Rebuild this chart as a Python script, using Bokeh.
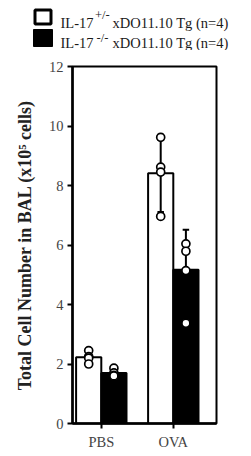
from bokeh.plotting import figure
from bokeh.models import Range1d, FixedTicker
from bokeh.layouts import column
from bokeh.embed import file_html
from bokeh.resources import INLINE
from bokeh.core.properties import value

# ---- data ----
categories = ["PBS", "OVA"]
cat_pos = [1, 2]
group_base = "IL-17"
group_sup = ["+/-", "-/-"]
group_rest = "xDO11.10 Tg (n=4)"
group_fill = ["white", "black"]
het_mean = [2.23, 8.41]
het_sd = [0.2, 1.3]
ko_mean = [1.70, 5.17]
ko_sd = [0.12, 1.34]
het_pbs_pts = [2.45, 2.25, 2.2, 2.0]
het_ova_pts = [9.62, 8.62, 8.45, 6.96]
ko_pbs_pts = [1.86, 1.7, 1.62, 1.6]
ko_ova_pts = [6.04, 5.79, 5.14, 3.37]
y_ticks = [0, 2, 4, 6, 8, 10, 12]
y_label = "Total Cell Number in BAL (x10\u2075 cells)"

FONT = "Liberation Serif"
BW = 0.35
CAP = 0.045

W = 251
LH = 50          # legend strip height
H = 456 - LH     # main figure height
FL, FR, FT, FB = 72, 216, 66 - LH, 423 - LH

het_x = [c - BW / 2 for c in cat_pos]
ko_x = [c + BW / 2 for c in cat_pos]

# ---- legend strip (page-pixel coordinates) ----
lf = figure(width=W, height=LH, x_range=Range1d(0, W), y_range=Range1d(LH, 0),
            output_backend="svg", toolbar_location=None, min_border=0,
            x_axis_type=None, y_axis_type=None)
lf.grid.visible = False
lf.outline_line_color = None
lf.background_fill_color = None
lf.border_fill_color = None
lf.quad(left=[34.5], right=[50.5], top=[9.5], bottom=[23.5],
        fill_color=group_fill[0], line_color="black", line_width=3)
lf.quad(left=[33], right=[52], top=[29], bottom=[46],
        fill_color=group_fill[1], line_color="black", line_width=1)
lf.text(x=[60, 60], y=[22, 42], text=[group_base, group_base],
        text_font=value(FONT), text_font_size="14.5px", text_color="#1a1a1a",
        text_baseline="alphabetic", text_align="left")
lf.text(x=[94.5, 96], y=[14.5, 37], text=group_sup,
        text_font=value(FONT), text_font_size="12.5px", text_color="#1a1a1a",
        text_baseline="alphabetic", text_align="left")
lf.text(x=[112, 112], y=[22, 42], text=[group_rest, group_rest],
        text_font=value(FONT), text_font_size="14.5px", text_color="#1a1a1a",
        text_baseline="alphabetic", text_align="left")

# ---- main figure ----
p = figure(width=W, height=H, x_range=Range1d(0.6, 2.6), y_range=Range1d(0, 12),
           output_backend="svg", toolbar_location=None,
           min_border_left=FL, min_border_right=W - FR,
           min_border_top=FT, min_border_bottom=H - FB)
p.grid.visible = False
p.outline_line_color = "black"
p.outline_line_width = 2

for fig in (lf, p):
    if "frame_align" in fig.properties():
        fig.frame_align = False

p.vbar(x=het_x, top=het_mean, width=BW, fill_color="white", line_color="black", line_width=2)
p.vbar(x=ko_x, top=ko_mean, width=BW, fill_color="black", line_color="black", line_width=2)

# error bars (mean +/- SD)
for xs, m, s in ((het_x, het_mean, het_sd), (ko_x, ko_mean, ko_sd)):
    lo = [a - b for a, b in zip(m, s)]
    hi = [a + b for a, b in zip(m, s)]
    p.segment(x0=xs, y0=lo, x1=xs, y1=hi, line_color="black", line_width=2)
    p.segment(x0=[x - CAP for x in xs], y0=hi, x1=[x + CAP for x in xs], y1=hi,
              line_color="black", line_width=2)
    p.segment(x0=[x - CAP for x in xs], y0=lo, x1=[x + CAP for x in xs], y1=lo,
              line_color="black", line_width=2)

# individual animals
pts_sets = [(het_x[0], het_pbs_pts), (het_x[1], het_ova_pts),
            (ko_x[0], ko_pbs_pts), (ko_x[1], ko_ova_pts)]
px, py = [], []
for xc, vals in pts_sets:
    px += [xc] * len(vals)
    py += vals
p.scatter(x=px, y=py, marker="circle", size=8, fill_color="white",
          line_color="black", line_width=1.7)

# axes
for ax in (p.xaxis[0], p.yaxis[0]):
    ax.axis_line_width = 2.5
    ax.axis_line_color = "black"
    ax.major_tick_line_width = 2
    ax.major_tick_line_color = "black"
    ax.major_tick_in = 0
    ax.major_tick_out = 5
    ax.minor_tick_line_color = None
    ax.major_label_text_font = FONT
    ax.major_label_text_font_size = "14.5px"
    ax.major_label_text_color = "#444"

p.xaxis.ticker = FixedTicker(ticks=cat_pos)
p.xaxis.major_label_overrides = {c: n for c, n in zip(cat_pos, categories)}
p.xaxis.major_label_standoff = 5

p.yaxis.ticker = FixedTicker(ticks=y_ticks)
p.yaxis.major_label_standoff = 4
p.yaxis.axis_label = y_label
p.yaxis.axis_label_text_font = FONT
p.yaxis.axis_label_text_font_size = "18px"
p.yaxis.axis_label_text_font_style = "bold"
p.yaxis.axis_label_text_color = "#222"
p.yaxis.axis_label_standoff = 11

layout = column(lf, p, spacing=0)
open("out.html", "w").write(file_html(layout, INLINE))
